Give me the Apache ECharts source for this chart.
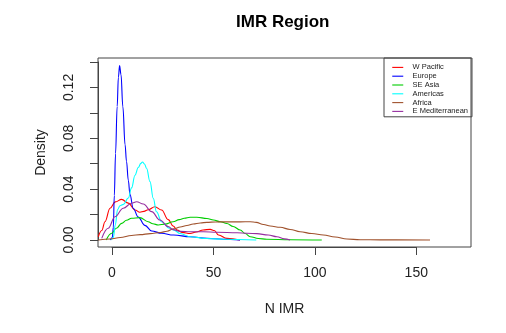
<!DOCTYPE html>
<html>
<head>
<meta charset="utf-8">
<script src="https://cdn.jsdelivr.net/npm/echarts@6/dist/echarts.min.js"></script>
<style>
html,body{margin:0;padding:0;background:#fff;}
#chart{width:506px;height:333px;}
</style>
</head>
<body>
<div id="chart"></div>
<script>
// Data: density curves as [x, density] pairs
const seriesNames = ['W Pacific', 'Europe', 'SE Asia', 'Americas', 'Africa', 'E Mediterranean'];
const seriesColors = ['#FF0000', '#0000FF', '#00CD00', '#00FFFF', '#A0522D', '#962EA0'];

const wPacific = [[-6.9,0.0026],[-5.2,0.0075],[-3.6,0.0144],[-1.1,0.025],[1.5,0.03],[4.6,0.032],[7.9,0.029],[11.2,0.0236],[13.6,0.0218],[15.6,0.0225],[17.7,0.0238],[21,0.0262],[24.3,0.0236],[27.6,0.016],[30,0.011],[32,0.0078],[34.5,0.006],[38.4,0.0051],[41.4,0.0063],[44.8,0.0079],[48.3,0.0084],[50.3,0.0075],[52.4,0.0039],[56.5,0.0013],[63,0]];
const europe = [[-1.0,0],[0,0.002],[0.5,0.01],[1.0,0.035],[1.6,0.068],[2.4,0.105],[3.0,0.128],[3.6,0.1373],[4.3,0.13],[5.2,0.105],[6.3,0.075],[7.0,0.062],[7.9,0.047],[8.7,0.036],[10.3,0.025],[12.8,0.018],[16.1,0.0115],[19.4,0.0071],[24.3,0.0053],[30.2,0.0039],[38.4,0.0026],[46.7,0.0013],[54.7,0.0006],[63,0]];
const seAsia = [[-3.0,0],[-0.3,0.0053],[2,0.0092],[4.6,0.0131],[7,0.0155],[9.5,0.0171],[13.6,0.0176],[17.7,0.0144],[20,0.0128],[22.7,0.0118],[26,0.0125],[30,0.0144],[33,0.016],[35.5,0.0171],[38.4,0.0179],[41.7,0.0179],[46.7,0.0169],[49.9,0.0157],[53.2,0.0144],[56.5,0.013],[59.6,0.0106],[63.1,0.0079],[65.5,0.0051],[68.0,0.0026],[72,0.0012],[76.2,0.0006],[87.7,0.0002],[103.3,0]];
const americas = [[-0.5,0],[0.5,0.002],[1.5,0.012],[2.6,0.024],[3.8,0.027],[5.5,0.028],[7.9,0.033],[9.5,0.041],[11.2,0.051],[12.8,0.057],[14.1,0.0603],[14.9,0.0614],[15.9,0.0598],[16.9,0.0564],[18.6,0.0459],[20.2,0.0328],[21.8,0.0222],[24.3,0.0144],[28.2,0.0092],[30.2,0.0079],[33.5,0.0051],[38.4,0.0026],[46.7,0.0012],[54.7,0.0006],[71,0]];
const africa = [[-6.9,0],[-1.0,0.0008],[3.9,0.002],[9.5,0.0036],[13.8,0.0042],[18.7,0.005],[23.7,0.0059],[27,0.0069],[30.2,0.0088],[33.5,0.0102],[36.8,0.0114],[39.9,0.0126],[43.4,0.0134],[46.7,0.0139],[50.8,0.0142],[55.7,0.0143],[63.1,0.0143],[68.0,0.0144],[71.0,0.0139],[74.6,0.0122],[77.9,0.011],[82.8,0.01],[87.7,0.0083],[92.6,0.0065],[98.4,0.0051],[104.1,0.0039],[109.9,0.0024],[115.7,0.0008],[122.2,0.0002],[132,0.0001],[156.7,0]];
const eMed = [[-5.2,0.0013],[-2,0.0092],[1.3,0.0183],[5.4,0.025],[9.5,0.0289],[12,0.0301],[15.3,0.0283],[19.4,0.0223],[23.5,0.0157],[27.6,0.0105],[30,0.0082],[33.5,0.0068],[38.4,0.0065],[45.0,0.0065],[51.6,0.0061],[61.5,0.0057],[71.3,0.005],[76.9,0.0039],[81.2,0.0026],[84.8,0.0009],[87.7,0]];

const xTicks = [0, 50, 100, 150];
const yTickLabels = ['0.00', '0.04', '0.08', '0.12'];

const allData = [wPacific, europe, seAsia, americas, africa, eMed];

const chart = echarts.init(document.getElementById('chart'), null, {renderer: 'canvas'});
const axisCol = '#444';
const textCol = '#222';
const font = 'Liberation Sans, Arial, sans-serif';
const hiddenAxis = {axisLine: {show: false}, axisTick: {show: false}, axisLabel: {show: false}, splitLine: {show: false}};

chart.setOption({
  animation: false,
  backgroundColor: '#fff',
  title: {
    text: 'IMR Region',
    left: 236, top: 14, padding: 0,
    textStyle: {fontFamily: font, fontSize: 17, fontWeight: 'bold', color: '#000'}
  },
  legend: {
    orient: 'vertical',
    left: 384, top: 58,
    padding: [5, 4, 1, 7.7],
    itemGap: 0,
    itemWidth: 11, itemHeight: 8.8,
    borderColor: axisCol, borderWidth: 1,
    selectedMode: false,
    data: seriesNames,
    itemStyle: {opacity: 0, borderWidth: 0},
    lineStyle: {width: 1.1},
    textStyle: {fontFamily: font, fontSize: 7.5, color: textCol, lineHeight: 8.8, padding: [0,0,0,4.3]}
  },
  grid: [
    {left: 98, right: 35, top: 58, bottom: 86, show: true, borderColor: axisCol, borderWidth: 1, backgroundColor: 'transparent'},
    {left: 98, width: 10, top: 62, bottom: 93, show: false},
    {left: 112, right: 89.7, top: 200, bottom: 86, show: false}
  ],
  xAxis: [
    Object.assign({gridIndex: 0, type: 'value', min: -7.05, max: 176.9,
     name: 'N IMR', nameLocation: 'middle', nameGap: 55,
     nameTextStyle: {fontFamily: font, fontSize: 14, color: textCol}}, hiddenAxis),
    Object.assign({gridIndex: 1, type: 'value', min: 0, max: 1}, hiddenAxis),
    {gridIndex: 2, type: 'value', min: xTicks[0], max: xTicks[xTicks.length-1], interval: 50,
     position: 'bottom',
     axisLine: {show: true, onZero: false, lineStyle: {color: axisCol, width: 1}},
     axisTick: {show: true, length: 8, inside: false, lineStyle: {color: axisCol}},
     axisLabel: {show: true, margin: 19, fontFamily: font, fontSize: 14, color: textCol},
     splitLine: {show: false}}
  ],
  yAxis: [
    Object.assign({gridIndex: 0, type: 'value', min: -0.0055, max: 0.1432,
     name: 'Density', nameLocation: 'middle', nameGap: 50, nameRotate: 90,
     nameTextStyle: {fontFamily: font, fontSize: 14, color: textCol}}, hiddenAxis),
    {gridIndex: 1, type: 'value', min: 0, max: 0.14, interval: 0.02,
     position: 'left',
     axisLine: {show: true, onZero: false, lineStyle: {color: axisCol, width: 1}},
     axisTick: {show: true, length: 8, inside: false, lineStyle: {color: axisCol}},
     axisLabel: {show: true, rotate: 90, margin: 22, fontFamily: font, fontSize: 14, color: textCol,
       formatter: function (v) {
         const s = v.toFixed(2);
         return yTickLabels.indexOf(s) >= 0 ? s : '';
       }},
     splitLine: {show: false}},
    Object.assign({gridIndex: 2, type: 'value', min: 0, max: 1}, hiddenAxis)
  ],
  series: seriesNames.map(function (n, i) {
    return {
      name: n, type: 'line', xAxisIndex: 0, yAxisIndex: 0,
      data: allData[i], showSymbol: false, symbol: 'none',
      smooth: 0.4, smoothMonotone: 'x',
      color: seriesColors[i],
      lineStyle: {color: seriesColors[i], width: 1.1},
      clip: true
    };
  })
});
</script>
</body>
</html>
